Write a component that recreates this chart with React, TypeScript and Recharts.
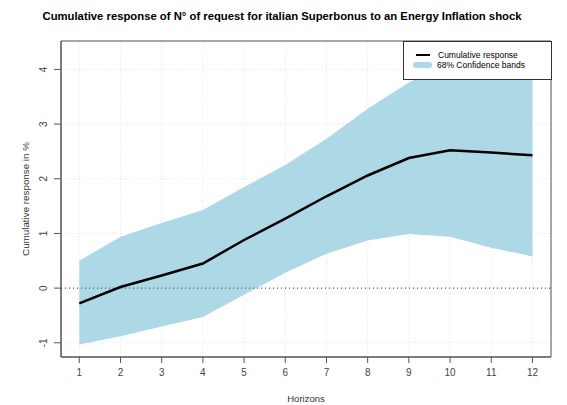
import React from "react";
import {
  ComposedChart,
  Area,
  Line,
  XAxis,
  YAxis,
  CartesianGrid,
  ReferenceLine,
  ReferenceArea,
} from "recharts";

const horizons = [1, 2, 3, 4, 5, 6, 7, 8, 9, 10, 11, 12];
const response = [-0.28, 0.02, 0.23, 0.45, 0.88, 1.27, 1.68, 2.06, 2.38, 2.52, 2.48, 2.43];
const lower = [-1.03, -0.88, -0.7, -0.53, -0.12, 0.28, 0.63, 0.87, 0.99, 0.94, 0.74, 0.58];
const upper = [0.5, 0.94, 1.19, 1.43, 1.85, 2.25, 2.73, 3.28, 3.76, 4.15, 4.3, 4.4];
const yTicks = [-1, 0, 1, 2, 3, 4];

const data = horizons.map((h, i) => ({
  h,
  resp: response[i],
  band: [lower[i], upper[i]],
}));

const FONT = "'Liberation Sans', Arial, sans-serif";
const X_DOMAIN = [0.556, 12.45];
const Y_DOMAIN = [-1.26, 4.52];

function YTick(props: any) {
  const { x, y, payload } = props;
  return (
    <text
      x={x}
      y={y}
      transform={`rotate(-90, ${x}, ${y})`}
      textAnchor="middle"
      fontSize={10}
      fontFamily={FONT}
      fill="#444"
    >
      {payload.value}
    </text>
  );
}

export default function App() {
  return (
    <div style={{ position: "absolute", left: 0, top: 0, width: 567, height: 405, background: "#fff" }}>
      <div
        style={{
          position: "absolute",
          left: 0,
          width: 564,
          top: 10,
          textAlign: "center",
          fontFamily: FONT,
          fontWeight: "bold",
          fontSize: 11.3,
          color: "#000",
        }}
      >
        Cumulative response of N° of request for italian Superbonus to an Energy Inflation shock
      </div>
      <ComposedChart
        width={567}
        height={405}
        data={data}
        margin={{ top: 41, right: 16, bottom: 0, left: 17 }}
        style={{ position: "absolute", left: 0, top: 0 }}
      >
        <CartesianGrid stroke="#e4e4e4" strokeDasharray="1 2" />
        <XAxis
          dataKey="h"
          type="number"
          domain={X_DOMAIN}
          ticks={horizons}
          allowDataOverflow
          height={48}
          tickSize={6}
          tickMargin={6}
          stroke="#555"
          tick={{ fontSize: 10, fontFamily: FONT, fill: "#444" }}
          label={{
            value: "Horizons",
            position: "insideBottom",
            offset: 3,
            style: { fontSize: 9.5, fontFamily: FONT, fill: "#333" },
          }}
        />
        <YAxis
          type="number"
          domain={Y_DOMAIN}
          ticks={yTicks}
          allowDataOverflow
          width={44}
          tickSize={7}
          tickMargin={7}
          stroke="#555"
          tick={<YTick />}
          label={{
            value: "Cumulative response in %",
            angle: -90,
            position: "insideLeft",
            offset: 9,
            style: { fontSize: 9.8, fontFamily: FONT, fill: "#333", textAnchor: "middle" },
          }}
        />
        <Area
          dataKey="band"
          type="linear"
          stroke="none"
          fill="#ADD8E6"
          fillOpacity={1}
          isAnimationActive={false}
        />
        <ReferenceLine y={0} stroke="#333" strokeDasharray="1 3" />
        <Line
          dataKey="resp"
          type="linear"
          stroke="#000"
          strokeWidth={2.5}
          dot={false}
          isAnimationActive={false}
        />
        <ReferenceArea
          x1={X_DOMAIN[0]}
          x2={X_DOMAIN[1]}
          y1={Y_DOMAIN[0]}
          y2={Y_DOMAIN[1]}
          fill="none"
          stroke="#555"
          fillOpacity={0}
        />
      </ComposedChart>
      <div
        style={{
          position: "absolute",
          left: 403,
          top: 41,
          width: 147,
          height: 37,
          border: "1px solid #333",
          background: "#fff",
          fontFamily: FONT,
          fontSize: 8.5,
          color: "#000",
        }}
      >
        <div style={{ position: "absolute", left: 11, top: 8, display: "flex", alignItems: "center", height: 10 }}>
          <span style={{ display: "inline-block", width: 14, height: 2, background: "#000", marginLeft: 1, marginRight: 8 }} />
          <span>Cumulative response</span>
        </div>
        <div style={{ position: "absolute", left: 9, top: 18, display: "flex", alignItems: "center", height: 10 }}>
          <span style={{ display: "inline-block", width: 19, height: 6, borderRadius: 3, background: "#ADD8E6", marginRight: 5 }} />
          <span>68% Confidence bands</span>
        </div>
      </div>
    </div>
  );
}
